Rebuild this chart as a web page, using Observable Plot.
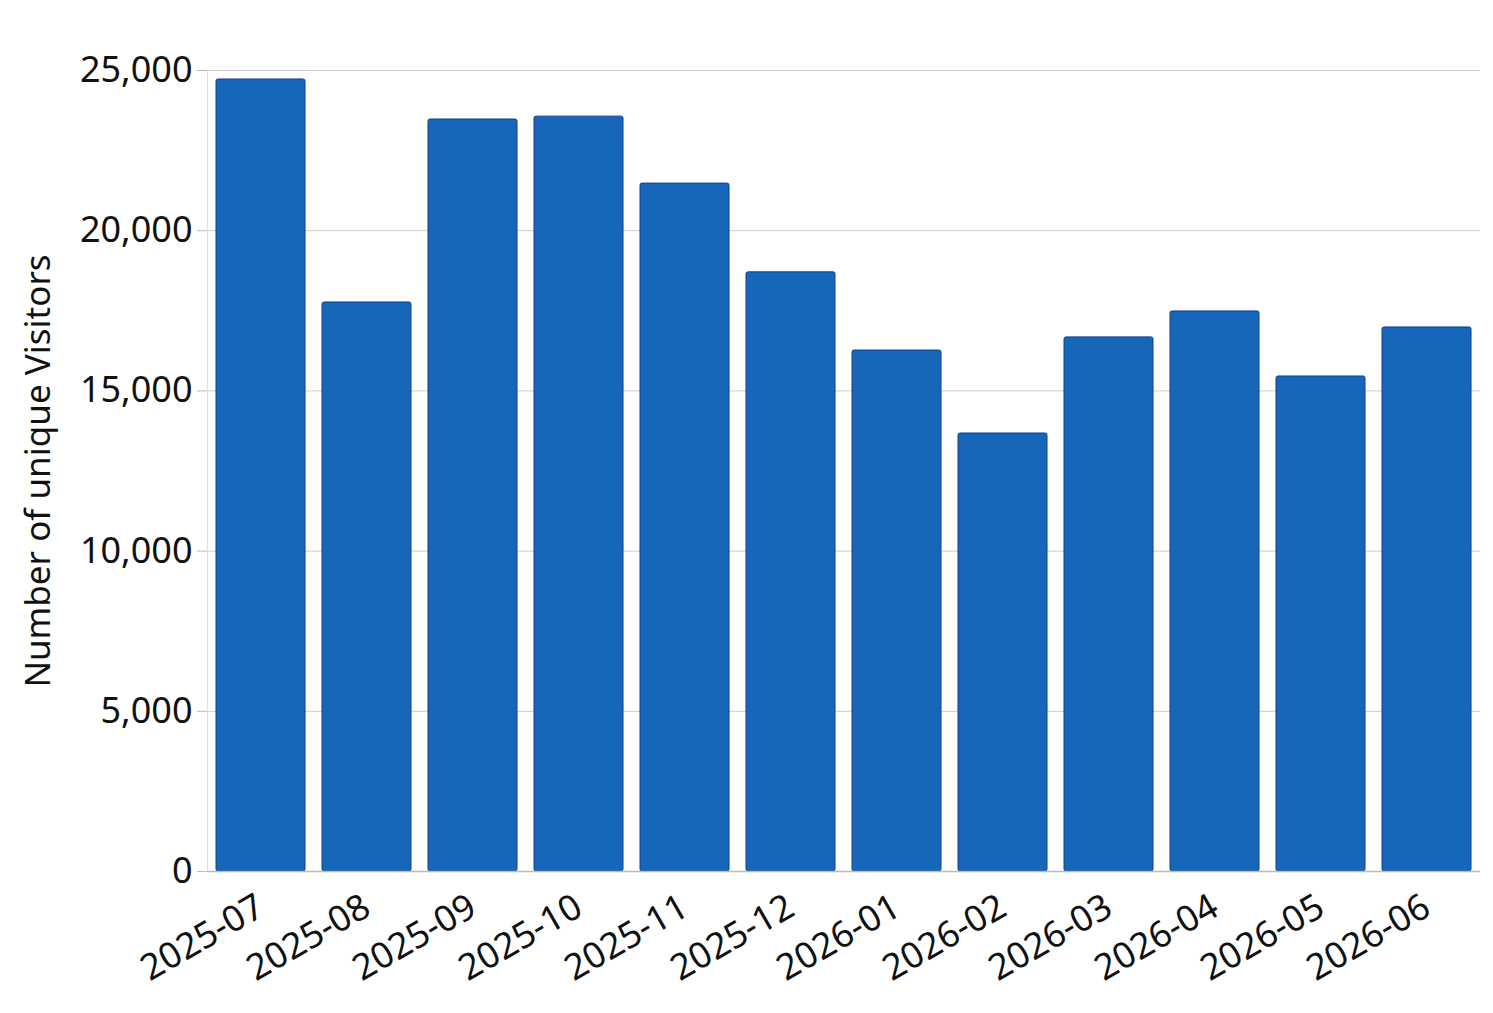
<!DOCTYPE html>
<html><head><meta charset="utf-8">
<script src="https://cdn.jsdelivr.net/npm/d3@7"></script>
<script src="https://cdn.jsdelivr.net/npm/@observablehq/plot@0.6"></script>
<style>body{margin:0;background:#fff}</style>
</head><body><div id="chart"></div>
<script>
const months = ["2025-07","2025-08","2025-09","2025-10","2025-11","2025-12","2026-01","2026-02","2026-03","2026-04","2026-05","2026-06"];
const visitors = [24720, 17760, 23470, 23560, 21470, 18700, 16260, 13670, 16670, 17480, 15450, 16980];
const yTicks = [0, 5000, 10000, 15000, 20000, 25000];
const data = months.map((m, i) => ({month: m, value: visitors[i]}));
const chart = Plot.plot({
  width: 1493, height: 1013,
  marginLeft: 207, marginRight: 13, marginTop: 70, marginBottom: 142,
  style: {fontFamily: "'Noto Sans', sans-serif", fontSize: "35px", color: "#111", background: "#fff"},
  x: {domain: months, paddingInner: 0.16, paddingOuter: 0.08, label: null},
  y: {domain: [0, 25000], label: null},
  marks: [
    Plot.gridY(yTicks, {stroke: "#ccc", strokeOpacity: 1, strokeWidth: 1}),
    Plot.frame({anchor: "left", stroke: "#ddd"}),
    Plot.barY(data, {x: "month", y: "value", fill: "#1666ba", stroke: "#0d3f8f", strokeWidth: 1, rx: 2}),
    Plot.ruleY([0], {stroke: "#bbb", strokeWidth: 1.5}),
    Plot.axisY(yTicks, {tickSize: 10, stroke: "#bbb", tickPadding: 5, fontSize: 36, tickFormat: d3.format(","), label: null}),
    Plot.axisX({tickSize: 0, tickRotate: -30, textAnchor: "end", fontSize: 36, dy: 20, dx: 0, label: null}),
    Plot.text(["Number of unique Visitors"], {frameAnchor: "left", textAnchor: "middle", dx: -169, rotate: -90, fontSize: 35, fill: "#111"})
  ]
});
document.getElementById("chart").appendChild(chart);
</script></body></html>
